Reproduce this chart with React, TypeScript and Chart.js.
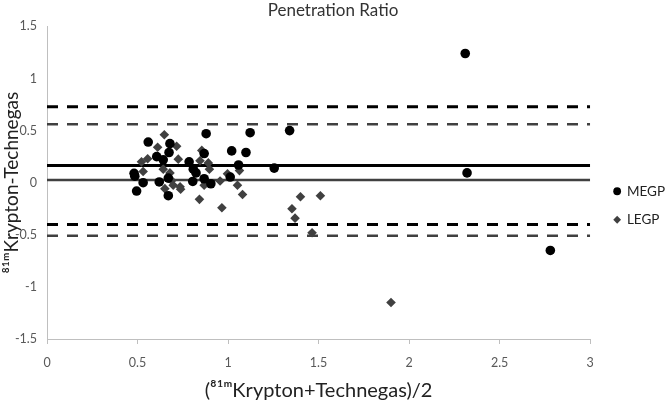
import React, { useEffect, useRef } from "react";
import { Chart, registerables } from "chart.js";

Chart.register(...registerables);

const chartTitle = "Penetration Ratio";
const xTitle = "(⁸¹ᵐKrypton+Technegas)/2";
const yTitle = "⁸¹ᵐKrypton-Technegas";

const megpX = [0.559, 0.679, 0.674, 0.606, 0.642, 0.785, 0.481, 0.485, 0.62, 0.67, 0.531, 0.495, 0.67, 0.879, 1.122, 0.868, 1.02, 1.099, 0.808, 0.823, 1.058, 0.868, 0.805, 0.905, 1.012, 1.34, 1.255, 2.31, 2.32, 2.78];
const megpY = [0.39, 0.375, 0.29, 0.25, 0.22, 0.2, 0.09, 0.063, 0.007, 0.044, 0.0, -0.08, -0.125, 0.47, 0.48, 0.28, 0.305, 0.29, 0.13, 0.094, 0.17, 0.038, 0.012, -0.01, 0.054, 0.5, 0.14, 1.24, 0.094, -0.65];

const legpX = [0.648, 0.611, 0.716, 0.556, 0.522, 0.725, 0.531, 0.642, 0.679, 0.689, 0.697, 0.735, 0.738, 0.651, 0.855, 0.845, 0.891, 0.897, 0.997, 1.063, 0.956, 0.868, 1.052, 1.08, 0.842, 0.966, 1.4, 1.51, 1.353, 1.37, 1.464, 1.9];
const legpY = [0.46, 0.34, 0.35, 0.23, 0.2, 0.226, 0.107, 0.13, 0.094, 0.02, -0.025, -0.04, -0.063, -0.057, 0.31, 0.21, 0.19, 0.13, 0.085, 0.116, 0.016, -0.025, -0.025, -0.113, -0.16, -0.24, -0.135, -0.125, -0.25, -0.34, -0.48, -1.15];

// Bland-Altman reference lines: [mean, upper limit, lower limit]
const megpLines = [0.165, 0.73, -0.4];
const legpLines = [0.025, 0.56, -0.51];

const xRange = [0, 3];
const yRange = [-1.5, 1.5];
const tickStep = 0.5;

const FONT = "Lato, 'Open Sans', 'DejaVu Sans', sans-serif";

function pts(xs: number[], ys: number[]) {
  return xs.map((x, i) => ({ x, y: ys[i] }));
}

function hLine(v: number) {
  return [
    { x: xRange[0], y: v },
    { x: xRange[1], y: v },
  ];
}

const legendShift = {
  id: "legendShift",
  afterLayout(chart: any) {
    const lg = chart.legend;
    if (!lg) return;
    const dx = 9;
    const dy = 4;
    lg.left += dx;
    lg.right += dx;
    lg.top += dy;
    lg.bottom += dy;
  },
};

export default function App() {
  const ref = useRef<HTMLCanvasElement | null>(null);

  useEffect(() => {
    if (!ref.current) return;
    const black = "#000000";
    const grey = "#404040";
    const lineSets: any[] = [];
    megpLines.forEach((v, i) => {
      lineSets.push({
        label: "megp-line-" + i,
        data: hLine(v),
        showLine: true,
        borderColor: black,
        borderWidth: 3,
        borderDash: i === 0 ? [] : [11, 9],
        pointRadius: 0,
        pointHoverRadius: 0,
        order: 5,
      });
    });
    legpLines.forEach((v, i) => {
      lineSets.push({
        label: "legp-line-" + i,
        data: hLine(v),
        showLine: true,
        borderColor: grey,
        borderWidth: 2.5,
        borderDash: i === 0 ? [] : [11, 9],
        pointRadius: 0,
        pointHoverRadius: 0,
        order: 5,
      });
    });

    const fmt = (v: any) => String(Math.round(Number(v) * 10) / 10);

    const chart = new Chart(ref.current, {
      type: "scatter",
      plugins: [legendShift],
      data: {
        datasets: [
          {
            label: "MEGP",
            data: pts(megpX, megpY),
            pointStyle: "circle",
            pointRadius: 4.8,
            pointBorderWidth: 0,
            backgroundColor: black,
            borderColor: black,
            order: 0,
          },
          {
            label: "LEGP",
            data: pts(legpX, legpY),
            pointStyle: "rectRot",
            pointRadius: 4.8,
            pointBorderWidth: 0,
            backgroundColor: grey,
            borderColor: grey,
            order: 1,
          },
          ...lineSets,
        ],
      },
      options: {
        animation: false,
        responsive: true,
        maintainAspectRatio: false,
        layout: { padding: { left: 0, right: 0, top: 0, bottom: 1 } },
        plugins: {
          title: {
            display: true,
            text: chartTitle,
            color: "#333333",
            font: { family: FONT, size: 17, weight: "normal" },
            padding: { top: 0, bottom: 6 },
          },
          legend: {
            position: "right",
            maxWidth: 76,
            labels: {
              usePointStyle: true,
              boxWidth: 6,
              boxHeight: 5.5,
              padding: 15,
              color: "#222222",
              font: { family: FONT, size: 13.5 },
              filter: (item: any) => item.datasetIndex < 2,
            },
          },
          tooltip: { enabled: false },
        },
        scales: {
          x: {
            type: "linear",
            min: xRange[0],
            max: xRange[1],
            ticks: {
              stepSize: tickStep,
              color: "#595959",
              font: { family: FONT, size: 12.5 },
              padding: 11,
              callback: fmt,
            },
            grid: {
              display: true,
              drawOnChartArea: false,
              drawTicks: true,
              tickLength: 5,
              color: "#bfbfbf",
            },
            border: { display: true, color: "#bfbfbf", width: 1 },
            title: {
              display: true,
              text: xTitle,
              color: "#222222",
              font: { family: FONT, size: 20 },
              padding: { top: -2, bottom: 0 },
            },
          },
          y: {
            type: "linear",
            min: yRange[0],
            max: yRange[1],
            afterFit: (scale: any) => {
              scale.width = 47;
            },
            ticks: {
              stepSize: tickStep,
              color: "#595959",
              font: { family: FONT, size: 12.5 },
              padding: 10,
              callback: fmt,
            },
            grid: { display: false, drawTicks: false, tickLength: 0 },
            border: { display: true, color: "#bfbfbf", width: 1 },
            title: {
              display: true,
              text: yTitle,
              color: "#222222",
              font: { family: FONT, size: 19 },
              padding: { top: 0, bottom: 0 },
            },
          },
        },
      },
    });
    return () => chart.destroy();
  }, []);

  return (
    <div style={{ position: "fixed", left: 0, top: 0, width: 666, height: 404, background: "#fff" }}>
      <canvas ref={ref} />
    </div>
  );
}
